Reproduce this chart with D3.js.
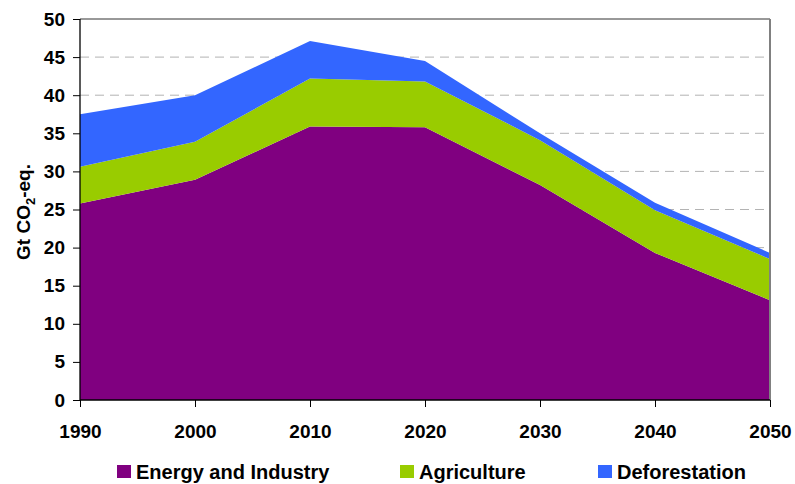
<!DOCTYPE html>
<html>
<head>
<meta charset="utf-8">
<script src="https://cdn.jsdelivr.net/npm/d3@7"></script>
<style>
  body { margin: 0; background: #fff; }
  svg { display: block; font-family: Arial, "Liberation Sans", sans-serif; }
</style>
</head>
<body>
<svg id="chart" width="795" height="484"></svg>
<script>
// data
const years = [1990, 2000, 2010, 2020, 2030, 2040, 2050];
const energyIndustry = [25.8, 28.9, 35.9, 35.8, 28.2, 19.3, 13.1];
const agriculture = [4.8, 5.0, 6.3, 6.0, 5.9, 5.6, 5.4];
const deforestation = [6.9, 6.1, 4.9, 2.7, 0.9, 1.0, 0.8];
const seriesNames = ["Energy and Industry", "Agriculture", "Deforestation"];
const seriesColors = ["#800080", "#99cc00", "#3366ff"];
const yTicks = [0, 5, 10, 15, 20, 25, 30, 35, 40, 45, 50];

const svg = d3.select("#chart");
const plotLeft = 80, plotRight = 770, plotTop = 19, plotBottom = 400;

const x = d3.scaleLinear().domain([1990, 2050]).range([plotLeft, plotRight]);
const y = d3.scaleLinear().domain([0, 50]).range([plotBottom, plotTop]);

// build the table for d3.stack
const rows = years.map((yr, i) => ({
  year: yr,
  [seriesNames[0]]: energyIndustry[i],
  [seriesNames[1]]: agriculture[i],
  [seriesNames[2]]: deforestation[i]
}));
const stacked = d3.stack().keys(seriesNames)(rows);

// gridlines
svg.append("g")
  .selectAll("line")
  .data(yTicks.filter(d => d > 0 && d < 50))
  .enter()
  .append("line")
  .attr("x1", plotLeft)
  .attr("x2", plotRight)
  .attr("y1", d => y(d))
  .attr("y2", d => y(d))
  .attr("stroke", "#b3b3b3")
  .attr("stroke-dasharray", "9,6");

// areas
const area = d3.area()
  .x(d => x(d.data.year))
  .y0(d => y(d[0]))
  .y1(d => y(d[1]));

svg.append("g")
  .selectAll("path")
  .data(stacked)
  .enter()
  .append("path")
  .attr("d", area)
  .attr("fill", (d, i) => seriesColors[i]);

// frame: top and right
svg.append("line")
  .attr("x1", plotLeft).attr("x2", plotRight)
  .attr("y1", y(50)).attr("y2", y(50))
  .attr("stroke", "#333");
svg.append("line")
  .attr("x1", plotRight).attr("x2", plotRight)
  .attr("y1", y(50)).attr("y2", plotBottom)
  .attr("stroke", "#808080")
  .attr("stroke-width", 2);

// y axis
const yAxis = d3.axisLeft(y).tickValues(yTicks).tickSize(7).tickPadding(8);
const yg = svg.append("g")
  .attr("transform", "translate(" + plotLeft + ",0)")
  .call(yAxis);

// x axis
const xAxis = d3.axisBottom(x).tickValues(years).tickFormat(d3.format("d")).tickSize(7).tickPadding(18);
const xg = svg.append("g")
  .attr("transform", "translate(0," + plotBottom + ")")
  .call(xAxis);

[yg, xg].forEach(g => {
  g.select(".domain").attr("stroke", "#000").attr("stroke-width", 1.3);
  g.selectAll(".tick line").attr("stroke", "#000");
  g.selectAll("text")
    .attr("fill", "#000")
    .style("font-size", "19px")
    .style("font-weight", "bold")
    .style("font-family", "Arial, 'Liberation Sans', sans-serif");
});
xg.select(".domain").attr("d", "M" + plotLeft + ",0H" + plotRight);
yg.select(".domain").attr("d", "M0," + plotTop + "V" + plotBottom);

// y axis title
const title = svg.append("text")
  .attr("transform", "translate(30,212) rotate(-90)")
  .attr("text-anchor", "middle")
  .style("font-size", "19px")
  .style("font-weight", "bold");
title.append("tspan").text("Gt CO");
title.append("tspan").attr("dy", 5).style("font-size", "13px").text("2");
title.append("tspan").attr("dy", -5).text("-eq.");

// legend (nudged up a little so descenders stay inside the frame)
const legendX = [117, 400, 598];
const lg = svg.append("g")
  .selectAll("g")
  .data(seriesNames)
  .enter()
  .append("g")
  .attr("transform", (d, i) => "translate(" + legendX[i] + ",465)");
lg.append("rect")
  .attr("width", 14)
  .attr("height", 13)
  .attr("fill", (d, i) => seriesColors[i]);
lg.append("text")
  .attr("x", 19)
  .attr("y", 13.5)
  .style("font-size", "20px")
  .style("font-weight", "bold")
  .text(d => d);
</script>
</body>
</html>
